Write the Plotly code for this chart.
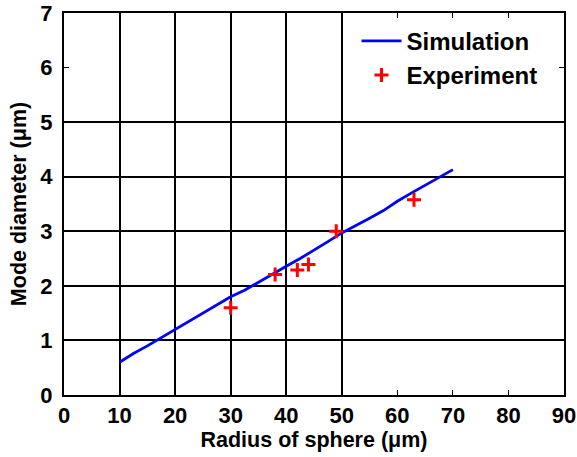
import plotly.graph_objects as go

# Simulation curve
sim_radius = [10, 12.5, 15, 17.5, 20, 22.5, 25, 27.5, 30, 32.5, 35, 37.5, 40,
              42.5, 45, 47.5, 50, 52.5, 55, 57.5, 60, 62.5, 65, 67.5, 70]
sim_diameter = [0.60, 0.76, 0.90, 1.05, 1.19, 1.34, 1.49, 1.65, 1.80, 1.92, 2.07, 2.22, 2.36,
                2.50, 2.65, 2.81, 2.97, 3.10, 3.24, 3.38, 3.55, 3.70, 3.84, 3.98, 4.13]

# Experimental points
exp_radius = [30, 38, 42, 44, 49, 63]
exp_diameter = [1.60, 2.21, 2.29, 2.39, 3.00, 3.58]

x_ticks = [0, 10, 20, 30, 40, 50, 60, 70, 80, 90]
y_ticks = [0, 1, 2, 3, 4, 5, 6, 7]
x_grid = [10, 20, 30, 40, 50]
y_grid = [1, 2, 3, 4, 5]

FONT = "Arial, Liberation Sans, Helvetica, sans-serif"

fig = go.Figure()
fig.add_trace(go.Scatter(x=sim_radius, y=sim_diameter, mode="lines", name="Simulation",
                         line=dict(color="#0000ff", width=2.8)))
fig.add_trace(go.Scatter(x=exp_radius, y=exp_diameter, mode="markers", name="Experiment",
                         marker=dict(symbol="cross-thin", size=10, color="red",
                                     line=dict(color="red", width=3))))
# helper trace on overlay axes that carry the partial grid
fig.add_trace(go.Scatter(x=[None], y=[None], xaxis="x2", yaxis="y2", showlegend=False,
                         hoverinfo="skip"))

fig.update_layout(
    width=577, height=457,
    margin=dict(l=64, r=13, t=13, b=62),
    paper_bgcolor="white", plot_bgcolor="white",
    font=dict(family=FONT, color="black", size=22, weight="bold"),
    showlegend=True,
    legend=dict(x=0.585, y=0.985, xanchor="left", yanchor="top",
                bgcolor="rgba(0,0,0,0)", borderwidth=0,
                font=dict(family=FONT, size=24, weight="bold"),
                tracegroupgap=0, itemwidth=40),
    xaxis=dict(range=[0, 90], tickvals=x_ticks, ticktext=[str(v) for v in x_ticks],
               ticks="inside", ticklen=5, tickwidth=1.2, tickcolor="black",
               showgrid=False, zeroline=False, showline=True, linecolor="black",
               linewidth=2, mirror="ticks", automargin=False,
               tickfont=dict(family=FONT, size=22, weight="bold"),
               title=dict(text="Radius of sphere (μm)", standoff=2,
                          font=dict(family=FONT, size=21.5, weight="bold"))),
    yaxis=dict(range=[0, 7], tickvals=y_ticks, ticktext=[str(v) for v in y_ticks],
               ticks="inside", ticklen=5, tickwidth=1.2, tickcolor="black",
               showgrid=False, zeroline=False, showline=True, linecolor="black",
               linewidth=2, mirror="ticks", automargin=False, ticklabelstandoff=5,
               tickfont=dict(family=FONT, size=22, weight="bold"),
               title=dict(text="Mode diameter (μm)", standoff=8,
                          font=dict(family=FONT, size=21.5, weight="bold"))),
    xaxis2=dict(range=[0, 90], overlaying="x", tickvals=x_grid, showticklabels=False,
                ticks="", showgrid=True, gridcolor="black", gridwidth=1.5,
                zeroline=False, showline=False, anchor="y2"),
    yaxis2=dict(range=[0, 7], overlaying="y", tickvals=y_grid, showticklabels=False,
                ticks="", showgrid=True, gridcolor="black", gridwidth=1.5,
                zeroline=False, showline=False, anchor="x2"),
)

fig.write_html("out.html", config={"displayModeBar": False},
               post_script="document.body.style.margin='0';")
